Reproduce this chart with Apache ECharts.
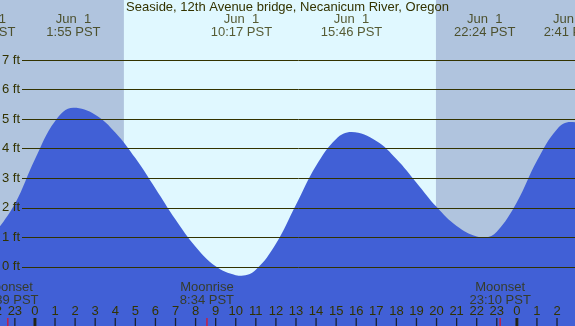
<!DOCTYPE html>
<html>
<head>
<meta charset="utf-8">
<script src="https://cdn.jsdelivr.net/npm/echarts@6/dist/echarts.min.js"></script>
<style>
  html, body { margin: 0; padding: 0; }
  #chart-container { width: 575px; height: 326px; }
</style>
</head>
<body>
<div id="chart-container"></div>
<script>
// tide height (ft) by hour since midnight Jun 1 (PST)
var tideHours = [-2, -1, 0, 1, 1.917, 3, 4, 5, 6, 7, 8, 9, 10, 10.283, 11, 12, 13, 14, 15, 15.767,
  17, 18, 19, 20, 21, 22, 22.4, 23, 24, 25, 26, 26.683, 27];
var tideFeet = [1.14, 2.13, 3.64, 4.93, 5.38, 5.15, 4.55, 3.68, 2.65, 1.60, 0.68, 0.02, -0.28, -0.30, -0.10, 0.78, 2.10, 3.42, 4.33, 4.56,
  4.26, 3.65, 2.85, 2.03, 1.38, 1.03, 1.00, 1.19, 2.19, 3.59, 4.66, 4.90, 4.89];

// high / low labels
var extremeTimes = [-2.5, 1.917, 10.283, 15.767, 22.4, 26.683];
var extremeDates = ['May 31', 'Jun  1', 'Jun  1', 'Jun  1', 'Jun  1', 'Jun  2'];
var extremeClock = ['21:30 PST', '1:55 PST', '10:17 PST', '15:46 PST', '22:24 PST', '2:41 PST'];

// moon events
var moonTimes = [-1.35, 8.567, 23.167];
var moonNames = ['Moonset', 'Moonrise', 'Moonset'];
var moonClock = ['22:39 PST', '8:34 PST', '23:10 PST'];

// daylight
var sunrise = 4.43;
var sunset = 19.97;

// bottom scale
var hourTicks = [-2, -1, 0, 1, 2, 3, 4, 5, 6, 7, 8, 9, 10, 11, 12, 13, 14, 15, 16, 17, 18, 19, 20, 21, 22, 23, 24, 25, 26, 27];
var midnights = [0, 24];
var ftTicks = [0, 1, 2, 3, 4, 5, 6, 7];

var dom = document.getElementById('chart-container');
var myChart = echarts.init(dom, null, { renderer: 'canvas' });

var H = 326;
var ppf = 29.56;           // pixels per foot
var yMin = -2;
var yMax = yMin + H / ppf;
var txt = '#333300';

function pixToFt(py) { return yMax - py / ppf; }

function tickSeries(hours, w, color) {
  return {
    type: 'scatter', xAxisIndex: 0, yAxisIndex: 0, z: 5, clip: false, silent: true,
    symbol: 'rect', symbolSize: [w, 8],
    itemStyle: { color: color },
    data: hours.map(function (h) { return [h, pixToFt(322)]; })
  };
}

var option = {
  backgroundColor: '#b0c4de',
  animation: false,
  textStyle: { fontFamily: 'Liberation Sans', fontSize: 13, color: txt },
  title: {
    text: 'Seaside, 12th Avenue bridge, Necanicum River, Oregon',
    left: 'center', top: 1, padding: 0,
    textStyle: { fontFamily: 'Liberation Sans', fontSize: 13, fontWeight: 'normal', color: txt }
  },
  grid: [
    { left: -5.22, right: -2.1, top: 0, bottom: 0, outerBoundsMode: 'none' },
    { left: 22, right: 0, top: (yMax - ftTicks[ftTicks.length - 1]) * ppf, bottom: (ftTicks[0] - yMin) * ppf, outerBoundsMode: 'none' }
  ],
  xAxis: [
    {
      gridIndex: 0, type: 'value', position: 'bottom', min: -2, max: 27, interval: 1, z: 4,
      axisLine: { show: false, onZero: false },
      splitLine: { show: false },
      axisTick: { show: false },
      axisLabel: {
        inside: true, margin: 8, color: txt, fontSize: 13, fontFamily: 'Liberation Sans',
        formatter: function (v) { return v > 26 ? '' : String(((v % 24) + 24) % 24); }
      }
    },
    { gridIndex: 1, type: 'value', min: 0, max: 1, show: false, axisLine: { onZero: false } }
  ],
  yAxis: [
    { gridIndex: 0, type: 'value', min: yMin, max: yMax, show: false, axisLine: { onZero: false } },
    {
      gridIndex: 1, type: 'value', min: ftTicks[0], max: ftTicks[ftTicks.length - 1], interval: 1, z: 3,
      axisLine: { show: false, onZero: false },
      axisTick: { show: false },
      splitLine: { show: true, lineStyle: { color: '#333300', width: 1 } },
      axisLabel: { margin: 2, color: txt, fontSize: 13, fontFamily: 'Liberation Sans', formatter: '{value} ft' }
    }
  ],
  series: [
    {
      // daylight band
      type: 'line', xAxisIndex: 0, yAxisIndex: 0, z: 1, data: [], silent: true,
      markArea: {
        silent: true,
        itemStyle: { color: '#e0f8ff' },
        data: [[{ xAxis: sunrise }, { xAxis: sunset }]]
      }
    },
    {
      type: 'line', xAxisIndex: 0, yAxisIndex: 0, z: 2,
      data: tideHours.map(function (h, i) { return [h, tideFeet[i]]; }),
      smooth: 0.4,
      showSymbol: false,
      lineStyle: { color: '#4160d6', width: 0 },
      areaStyle: { color: '#4160d6', origin: 'start', opacity: 1 }
    },
    tickSeries(hourTicks, 1.3, '#111100'),
    tickSeries(midnights, 3, '#222200'),
    tickSeries(moonTimes, 1.3, '#ff0000'),
    {
      // high / low time labels
      type: 'scatter', xAxisIndex: 0, yAxisIndex: 0, z: 6, clip: false, silent: true,
      symbolSize: 0,
      data: extremeTimes.map(function (h, i) { return { value: [h, pixToFt(25.7)], name: extremeDates[i] + '\n' + extremeClock[i] }; }),
      label: {
        show: true, position: 'inside', color: txt, fontSize: 13, lineHeight: 13, fontFamily: 'Liberation Sans',
        formatter: function (p) { return p.name; }
      }
    },
    {
      // moon labels
      type: 'scatter', xAxisIndex: 0, yAxisIndex: 0, z: 6, clip: false, silent: true,
      symbolSize: 0,
      data: moonTimes.map(function (h, i) { return { value: [h, pixToFt(294)], name: moonNames[i] + '\n' + moonClock[i] }; }),
      label: {
        show: true, position: 'inside', color: txt, fontSize: 13, lineHeight: 13, fontFamily: 'Liberation Sans',
        formatter: function (p) { return p.name; }
      }
    }
  ]
};

if (option && typeof option === 'object') {
  myChart.setOption(option);
}

window.addEventListener('resize', myChart.resize);
</script>
</body>
</html>
